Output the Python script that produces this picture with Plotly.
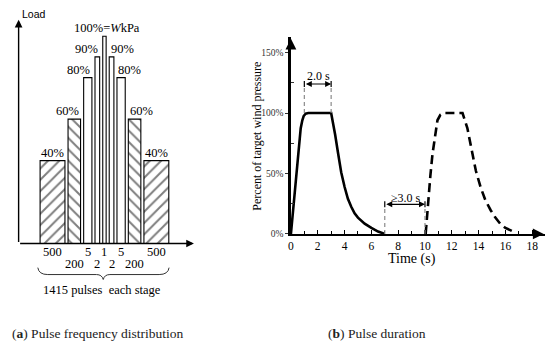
import plotly.graph_objects as go

W, H = 550, 353


def px(x):
    return x / W


def py(y):
    return 1 - y / H


# ---------------- data: panel (a) ----------------
load_pct = [40, 60, 80, 90, 100, 90, 80, 60, 40]
pulse_counts = [500, 200, 5, 2, 1, 2, 5, 200, 500]
pct_labels = ["40%", "60%", "80%", "90%", "100%=<i>W</i>kPa", "90%", "80%", "60%", "40%"]
total_label = "1415 pulses \u00a0each stage"

# ---------------- data: panel (b) ----------------
t_first = [0, 0.2, 0.41, 0.6, 0.73, 0.85, 0.95, 1.1, 1.3, 3.0, 3.15, 3.3, 3.5, 3.75,
           4.0, 4.25, 4.5, 4.75, 5.0, 5.5, 6.0, 6.5, 7.0]
p_first = [0, 24, 49, 72, 87.5, 94, 97.5, 99.5, 100, 100, 92, 82, 68, 51,
           39, 29, 22.5, 17, 13.5, 8.5, 5, 2, 0]
t_second = [10.05, 10.2, 10.4, 10.56, 10.75, 10.93, 11.15, 11.4, 12.8, 12.95, 13.16,
            13.5, 13.8, 14.15, 14.5, 14.9, 15.25, 15.6, 16.0, 16.5]
p_second = [0, 22, 48, 66, 82, 94, 98.5, 100, 100, 95, 87.5,
            68.5, 52, 38.6, 28, 19.6, 13.5, 8.6, 5, 2.4]
x_ticks = list(range(0, 19, 2))
y_ticks = [0, 50, 100, 150]
y_ticktext = ["0%", "50%", "100%", "150%"]
plateau = [1.0, 3.0]
gap_span = [7.0, 10.0]

# ---------------- styles ----------------
SERIF = "Liberation Serif"
hatch = ["/", "\\", "", "", "", "", "", "\\", "/"]
bar_widths = [25, 12.6, 8.3, 4.7, 3.4, 4.7, 8.3, 12.6, 25]
bar_gap = 3.1
bar_start = 37.3

centers = []
pos = bar_start
for w in bar_widths:
    centers.append(pos + w / 2)
    pos += w + bar_gap

fig = go.Figure()

fig.add_trace(go.Bar(
    x=centers, y=load_pct, width=bar_widths,
    marker=dict(color="white", line=dict(color="black", width=1.1),
                pattern=dict(shape=hatch, fgcolor="black", bgcolor="white",
                             size=8, solidity=0.25)),
    xaxis="x", yaxis="y", hoverinfo="skip",
))

fig.add_trace(go.Scatter(
    x=t_first, y=p_first, mode="lines",
    line=dict(color="black", width=2.6),
    xaxis="x2", yaxis="y2", hoverinfo="skip",
))
fig.add_trace(go.Scatter(
    x=t_second, y=p_second, mode="lines",
    line=dict(color="black", width=2.6, dash="9px,5px"),
    xaxis="x2", yaxis="y2", hoverinfo="skip",
))

ann = []
shapes = []


def ptext(x, y, text, size, xanchor="center", yanchor="middle", color="black",
          family=SERIF, **kw):
    ann.append(dict(xref="paper", yref="paper", x=px(x), y=py(y), text=text,
                    xanchor=xanchor, yanchor=yanchor, showarrow=False,
                    font=dict(family=family, size=size, color=color), **kw))


# panel (a) axes (arrows)
y_top_a = (247 - 20) * 100 / 210.3
ann.append(dict(xref="x", yref="y", axref="x", ayref="y", x=15.7, y=y_top_a, ax=15.7, ay=0,
                text="", showarrow=True, arrowhead=2, arrowsize=1.1, arrowwidth=1.4,
                arrowcolor="black"))
ann.append(dict(xref="x", yref="y", axref="x", ayref="y", x=192, y=0, ax=15.7, ay=0,
                text="", showarrow=True, arrowhead=2, arrowsize=1.1, arrowwidth=1.4,
                arrowcolor="black"))
ptext(31.5, 14, "Load", 10.5, family="Liberation Sans")

# bar labels
for i, (c, w, v, lab) in enumerate(zip(centers, bar_widths, load_pct, pct_labels)):
    if i in (0, 8):
        xa, xx, sh = "center", c, 0
    elif i == 4:
        xa, xx, sh = "center", c, 3
    elif i < 4:
        xa, xx, sh = "right", c + w / 2 + 0.5, 0
    else:
        xa, xx, sh = "left", c - w / 2 - 0.5, 0
    ann.append(dict(xref="x", yref="y", x=xx, y=v, xanchor=xa, yanchor="bottom",
                    xshift=sh, yshift=-1, text=lab, showarrow=False,
                    font=dict(family=SERIF, size=12.5, color="black")))

# pulse counts under the axis (two rows)
for i, (c, n) in enumerate(zip(centers, pulse_counts)):
    yy = 255.5 if i % 2 == 0 else 267.5
    ann.append(dict(xref="x", yref="paper", x=c, y=py(yy), text=str(n), showarrow=False,
                    xanchor="center", yanchor="middle",
                    font=dict(family=SERIF, size=12.5, color="black")))

# brace
brace = [("M", 35, 271.5), ("Q", 36, 278.5, 45, 278.5), ("L", 94, 278.5),
         ("Q", 99.5, 278.5, 100.8, 283.5), ("Q", 102, 278.5, 107.5, 278.5),
         ("L", 157, 278.5), ("Q", 166, 278.5, 167, 271.5)]
path = ""
for cmd in brace:
    path += cmd[0]
    nums = cmd[1:]
    pts = []
    for k in range(0, len(nums), 2):
        pts.append(f"{px(nums[k]):.5f},{py(nums[k + 1]):.5f}")
    path += " ".join(pts) + " "
shapes.append(dict(type="path", xref="paper", yref="paper", path=path.strip(),
                   line=dict(color="#333", width=1)))
ptext(100, 294, total_label, 12.5)

# panel (b) axis arrowheads
x2_max = (545 - 289.5) / 13.48
y2_max = (237.3 - 38) / 1.2267
ann.append(dict(xref="x2", yref="y2", axref="x2", ayref="y2", x=x2_max - 0.1, y=0,
                ax=x2_max - 1.0, ay=0, text="", showarrow=True, arrowhead=2,
                arrowsize=1.2, arrowwidth=1.8, arrowcolor="black"))
ann.append(dict(xref="x2", yref="y2", axref="x2", ayref="y2", x=0, y=y2_max - 1,
                ax=0, ay=y2_max - 10, text="", showarrow=True, arrowhead=2,
                arrowsize=1.2, arrowwidth=1.8, arrowcolor="black"))


# duration brackets
def bracket(x0, x1, yb, label, ylab, xlab):
    ann.append(dict(xref="x2", yref="y2", axref="x2", ayref="y2", x=x1, y=yb, ax=x0, ay=yb,
                    text="", showarrow=True, arrowhead=2, arrowside="end+start",
                    arrowsize=1.0, arrowwidth=1.2, arrowcolor="black", standoff=0,
                    startstandoff=0))
    for xv in (x0, x1):
        shapes.append(dict(type="line", xref="x2", yref="y2", x0=xv, x1=xv,
                           y0=yb - 2.5, y1=yb + 2.5, line=dict(color="black", width=1.2)))
    ann.append(dict(xref="x2", yref="y2", x=xlab, y=ylab, text=label, showarrow=False,
                    xanchor="center", yanchor="middle",
                    font=dict(family=SERIF, size=12, color="black")))


bracket(plateau[0], plateau[1], 124, "2.0 s", 131, 2.08)
bracket(gap_span[0], gap_span[1], 24.5, "\u22653.0 s", 29.5, 8.57)

for xv, ytop, ybot in [(plateau[0], 121.5, 100), (plateau[1], 121.5, 100),
                       (gap_span[0], 21.5, 0), (gap_span[1], 21.5, 0)]:
    shapes.append(dict(type="line", xref="x2", yref="y2", x0=xv, x1=xv, y0=ybot, y1=ytop,
                       line=dict(color="#8a8a8a", width=1.2, dash="4px,3px")))

# panel (b) titles
ptext(255, 138, "Percent of target wind pressure", 12, textangle=-90)
ptext(411.7, 263, "Time (s)", 14)

# captions
ptext(7, 338, "(<b>a</b>) Pulse frequency distribution", 13.5, xanchor="left", color="#222")
ptext(325, 338, "(<b>b</b>) Pulse duration", 13.5, xanchor="left", color="#222")

fig.update_layout(
    width=W, height=H, margin=dict(l=0, r=0, t=0, b=0),
    paper_bgcolor="white", plot_bgcolor="rgba(0,0,0,0)", showlegend=False,
    bargap=0,
    xaxis=dict(domain=[px(10), px(200)], range=[10, 200], visible=False, fixedrange=True),
    yaxis=dict(domain=[py(247), py(15)], range=[0, (247 - 15) * 100 / 210.3],
               visible=False, fixedrange=True),
    xaxis2=dict(domain=[px(289.5), px(545)], range=[0, x2_max], anchor="y2",
                showline=True, linewidth=2.5, linecolor="black", showgrid=False,
                zeroline=False, ticks="inside", ticklen=4, tickwidth=1.2, tickcolor="black",
                tickvals=x_ticks, minor=dict(ticks="inside", dtick=1, tick0=0, ticklen=3,
                                             tickwidth=1, tickcolor="black"),
                tickfont=dict(family=SERIF, size=11.5, color="black"), fixedrange=True),
    yaxis2=dict(domain=[py(237.3), py(38)], range=[0, y2_max], anchor="x2",
                showline=True, linewidth=2.5, linecolor="black", showgrid=False,
                zeroline=False, ticks="outside", ticklen=3, tickwidth=1, tickcolor="#333",
                tickvals=y_ticks, ticktext=y_ticktext,
                minor=dict(ticks="inside", tickvals=[25, 75, 125], ticklen=3, tickwidth=1,
                           tickcolor="#333"),
                tickfont=dict(family=SERIF, size=9.5, color="#333"), fixedrange=True),
    annotations=ann, shapes=shapes,
)

fig.write_html("out.html", config={"displayModeBar": False, "staticPlot": True},
               post_script="document.body.style.margin='0px';")
